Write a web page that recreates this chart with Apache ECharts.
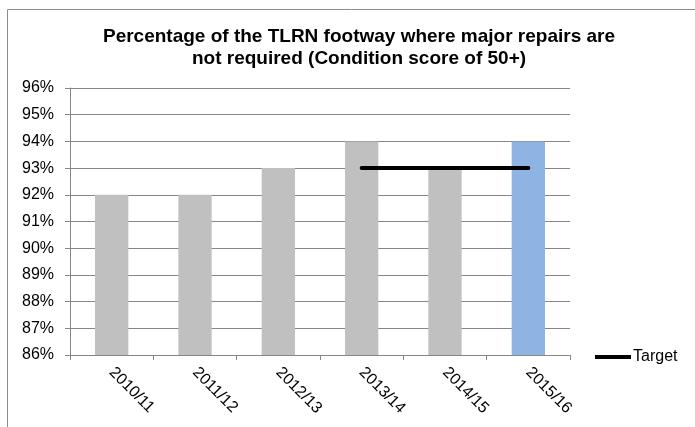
<!DOCTYPE html>
<html>
<head>
<meta charset="utf-8">
<script src="https://cdn.jsdelivr.net/npm/echarts@6/dist/echarts.min.js"></script>
<style>
  html, body { margin: 0; padding: 0; background: #fff; }
  #chart { width: 695px; height: 427px; }
</style>
</head>
<body>
<div id="chart"></div>
<script>
var years = ['2010/11', '2011/12', '2012/13', '2013/14', '2014/15', '2015/16'];
var actual = [92, 92, 93, 94, 93, 94];
var target = [null, null, null, 93, 93, 93];
var bar_colors = ['#c0c0c0', '#c0c0c0', '#c0c0c0', '#c0c0c0', '#c0c0c0', '#8eb4e3'];

var font = 'Arial, "Liberation Sans", sans-serif';
var chart = echarts.init(document.getElementById('chart'));

chart.setOption({
    animation: false,
    title: {
	text: 'Percentage of the TLRN footway where major repairs are\nnot required (Condition score of 50+)',
	left: 354,
	textAlign: 'center',
	top: 21,
	textStyle: {
	    fontFamily: font,
	    fontSize: 19,
	    fontWeight: 'bold',
	    color: '#000',
	    lineHeight: 22
	}
    },
    graphic: [{
	type: 'rect',
	shape: {x: 7.5, y: 9.5, width: 800, height: 800},
	style: {fill: null, stroke: '#8c8c8c', lineWidth: 1},
	silent: true
    }],
    legend: {
	data: ['Target'],
	left: 590,
	top: 344,
	icon: 'rect',
	itemWidth: 36,
	itemHeight: 4,
	itemGap: 0,
	textStyle: {fontFamily: font, fontSize: 16, color: '#000', padding: [0, 0, 0, -3]}
    },
    grid: {left: 70, right: 125, top: 88, bottom: 72, containLabel: false},
    xAxis: {
	type: 'category',
	data: years,
	axisLine: {lineStyle: {color: '#868686'}},
	axisTick: {show: true, length: 5, alignWithLabel: false, lineStyle: {color: '#868686'}},
	axisLabel: {
	    rotate: -45,
	    interval: 0,
	    margin: 15,
	    fontFamily: font,
	    fontSize: 16,
	    color: '#000'
	}
    },
    yAxis: {
	type: 'value',
	min: 86,
	max: 96,
	interval: 1,
	axisLine: {show: true, lineStyle: {color: '#868686'}},
	axisTick: {show: true, length: 5, lineStyle: {color: '#868686'}},
	splitLine: {lineStyle: {color: '#868686'}},
	axisLabel: {
	    formatter: '{value}%',
	    margin: 16,
	    fontFamily: font,
	    fontSize: 16,
	    color: '#000'
	}
    },
    series: [{
	name: 'Actual',
	type: 'bar',
	barWidth: '40%',
	data: actual.map(function (v, i) {
	    return {value: v, itemStyle: {color: bar_colors[i]}};
	})
    }, {
	name: 'Target',
	type: 'line',
	data: target,
	symbol: 'none',
	itemStyle: {color: '#000'},
	lineStyle: {color: '#000', width: 4, cap: 'round'}
    }]
});
</script>
</body>
</html>
